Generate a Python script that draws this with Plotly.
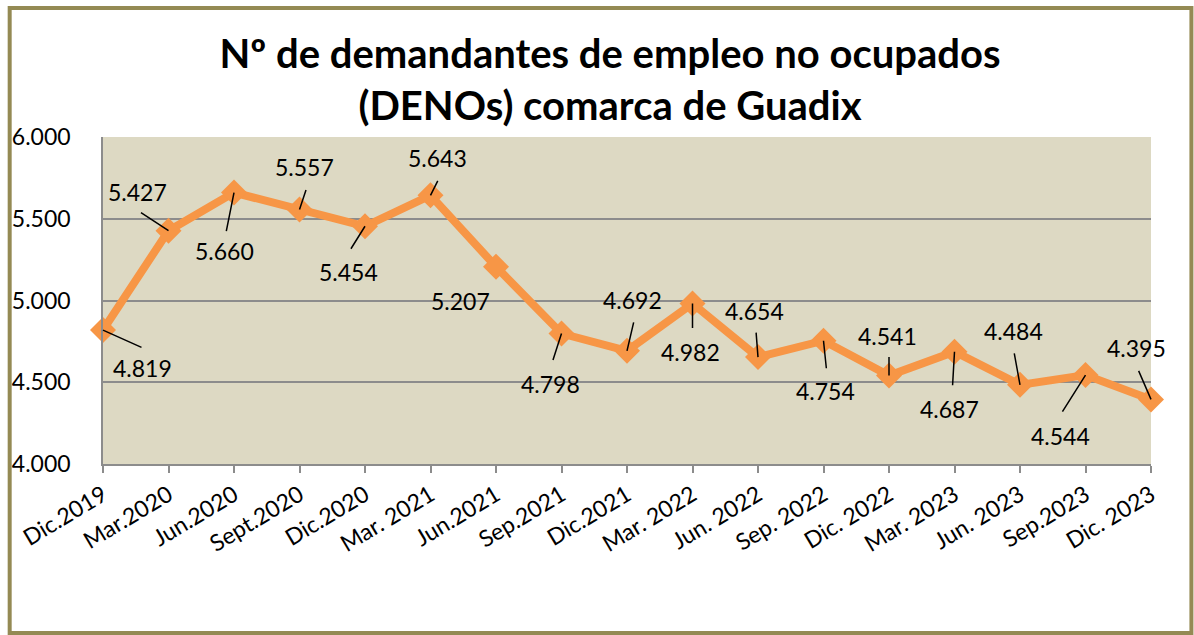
import plotly.graph_objects as go

categories = ["Dic.2019", "Mar.2020", "Jun.2020", "Sept.2020", "Dic.2020", "Mar. 2021",
              "Jun.2021", "Sep.2021", "Dic.2021", "Mar. 2022", "Jun. 2022", "Sep. 2022",
              "Dic. 2022", "Mar. 2023", "Jun. 2023", "Sep.2023", "Dic. 2023"]
values = [4819, 5427, 5660, 5557, 5454, 5643, 5207, 4798, 4692, 4982, 4654, 4754,
          4541, 4687, 4484, 4544, 4395]
y_ticks = [4000, 4500, 5000, 5500, 6000]

# label placement (pixel offsets from each point: text centre and leader-line tail)
label_dx = [39, -31, -10, 5, -17, 7, -36, -11, 5, -2, -4, 2, -2, -5, -7, -25, -15]
label_dy = [38, -39, 58, -42, 46, -37, 34, 50, -51, 49, -46, 50, -40, 57, -54, 61, -51]
leader_dx = [40, -29, -8, 7, -15, 8, None, -9, 7, 0, -2, 3, 0, -2, -6, -24, -13]
leader_dy = [18, -19, 40, -21, 24, -16, None, 28, -30, 26, -26, 29, -20, 35, -33, 38, -30]

FONT = "Lato, Calibri, sans-serif"
ORANGE = "#F79646"
GRID = "#8C8C8C"

def fmt(v):
    return f"{v:,}".replace(",", ".")

fig = go.Figure()
fig.add_trace(go.Scatter(
    x=categories, y=values, mode="lines+markers",
    line=dict(color=ORANGE, width=8),
    marker=dict(symbol="diamond", size=20, color=ORANGE),
    cliponaxis=False, showlegend=False, hoverinfo="skip",
))

annotations = []
for i, (c, v) in enumerate(zip(categories, values)):
    annotations.append(dict(
        x=c, y=v, xref="x", yref="y", text=fmt(v), showarrow=False,
        xshift=label_dx[i], yshift=-label_dy[i], xanchor="center", yanchor="middle",
        font=dict(family=FONT, size=23, color="black"),
    ))
    if leader_dx[i] is not None:
        annotations.append(dict(
            x=c, y=v, xref="x", yref="y", text="", showarrow=True,
            ax=leader_dx[i], ay=leader_dy[i], axref="pixel", ayref="pixel",
            arrowhead=0, arrowwidth=1.5, arrowcolor="black", standoff=0,
        ))

W, H = 1194, 635
L, R, T, B = 101, 43, 137, 171
pw = W - L - R
ph = H - T - B

def px_x(p):
    return (p - L) / pw

def px_y(p):
    return (H - B - p) / ph

fig.update_layout(
    width=W, height=H,
    margin=dict(l=L, r=R, t=T, b=B),
    paper_bgcolor="white",
    plot_bgcolor="#DDD9C3",
    separators=",.",
    title=dict(
        text="Nº de demandantes de empleo no ocupados<br>(DENOs) comarca de Guadix",
        x=610 / W, xref="container", xanchor="center",
        y=1 - 68 / H, yref="container", yanchor="top",
        font=dict(family=FONT, size=40, color="black", weight="bold"),
    ),
    xaxis=dict(
        type="category", range=[0, len(categories) - 1],
        showgrid=False, showline=True, linecolor=GRID, linewidth=1.5,
        ticks="outside", ticklen=7, tickcolor=GRID, tickwidth=1.5,
        tickangle=-31, tickfont=dict(family=FONT, size=23, color="black"),
        zeroline=False,
    ),
    yaxis=dict(
        range=[4000, 6000], tickvals=y_ticks, tickformat=",d",
        showgrid=True, gridcolor=GRID, gridwidth=2,
        showline=True, linecolor=GRID, linewidth=1.5,
        ticks="", ticklabelstandoff=26,
        tickfont=dict(family=FONT, size=23, color="black"),
        zeroline=False,
    ),
    annotations=annotations,
    shapes=[dict(
        type="rect", xref="paper", yref="paper",
        x0=px_x(7.5), x1=px_x(1191.5), y0=px_y(633), y1=px_y(8),
        line=dict(color="#948A54", width=4), fillcolor="rgba(0,0,0,0)", layer="above",
    )],
)

fig.write_html("out.html", config={"displayModeBar": False},
               post_script="document.body.style.margin='0';document.body.style.overflow='hidden';")
